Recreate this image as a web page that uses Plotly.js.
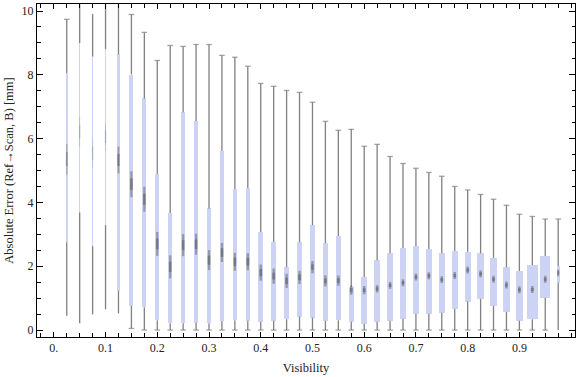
<!DOCTYPE html>
<html><head><meta charset="utf-8">
<script src="https://cdn.plot.ly/plotly-3.0.1.min.js"></script>
<style>html,body{margin:0;padding:0;background:#fff}#chart{width:576px;height:377px}</style>
</head><body><div id="chart"></div>
<script>
// ---- data ----
const visibility = [0.025,0.05,0.075,0.1,0.125,0.15,0.175,0.2,0.225,0.25,0.275,0.3,0.325,0.35,0.375,0.4,0.425,0.45,0.475,0.5,0.525,0.55,0.575,0.6,0.625,0.65,0.675,0.7,0.725,0.75,0.775,0.8,0.825,0.85,0.875,0.9,0.925,0.95,0.975];
const whiskerHigh = [9.74,10.4,9.91,10.4,10.24,9.89,9.33,8.45,8.92,8.89,8.95,8.95,8.61,8.55,8.27,7.73,7.64,7.51,7.45,7.14,6.54,6.26,6.29,5.76,5.82,5.44,5.22,5.07,4.94,4.82,4.50,4.39,4.25,4.10,3.91,3.63,3.56,3.48,3.48];
const upperQuartile = [8.06,9.00,8.57,8.81,8.64,8.01,7.26,4.89,3.67,6.83,6.55,3.81,5.61,4.42,4.45,3.07,2.76,1.97,2.75,3.29,2.72,2.95,1.35,1.66,2.19,2.41,2.57,2.63,2.54,2.41,2.48,2.45,2.40,2.26,1.97,1.85,2.04,2.32,2.01];
const median = [5.36,6.22,5.54,6.06,5.33,4.57,4.10,2.70,1.98,2.66,2.69,2.19,2.43,2.14,2.14,1.80,1.69,1.54,1.65,1.97,1.54,1.55,1.25,1.25,1.29,1.40,1.48,1.66,1.70,1.58,1.71,1.88,1.76,1.59,1.41,1.26,1.27,1.59,1.79];
const lowerQuartile = [2.75,3.68,2.63,3.29,1.23,0.76,0.71,0.31,0.21,0.21,0.23,0.21,0.28,0.31,0.29,0.26,0.29,0.34,0.42,0.39,0.29,0.31,0.26,0.20,0.26,0.29,0.35,0.51,0.51,0.54,0.67,0.89,0.98,0.76,0.57,0.29,0.34,1.01,1.48];
const whiskerLow = [0.45,0.21,0.49,0.65,0.52,0.05,0,0,0,0,0,0,0,0,0,0,0,0,0,0,0,0,0,0,0,0,0,0,0,0,0,0,0,0,0,0,0,0,0];
const sampleWeight = [2,1.3,1,1.3,3,4,4,4,4,4,4,4,4,4,4.5,4.5,5,5,5,5,5,5,5.5,5.5,5.5,6,6,6,6,6,6,6,6.5,7,7,7,11,10,3];
const xTickValues = [0,0.1,0.2,0.3,0.4,0.5,0.6,0.7,0.8,0.9];
const xTickLabels = ['0.','0.1','0.2','0.3','0.4','0.5','0.6','0.7','0.8','0.9'];

// ---- styling / derived geometry ----
const unitPerPx = 1/517.3;
const grey = '#808080';
const n = visibility.length;

const boxTrace = {
  type:'bar', x: visibility,
  y: upperQuartile.map((v,i)=>v-lowerQuartile[i]),
  base: lowerQuartile,
  width: sampleWeight.map(w=>w*unitPerPx),
  marker:{color:'#cdd3f4', line:{width:0}},
  hoverinfo:'skip'
};

const wx=[], wy=[];
for(let i=0;i<n;i++){
  wx.push(visibility[i],visibility[i],null,visibility[i],visibility[i],null);
  wy.push(upperQuartile[i],whiskerHigh[i],null,lowerQuartile[i],whiskerLow[i],null);
}
const whiskers = {type:'scatter',mode:'lines',x:wx,y:wy,line:{color:grey,width:1.3},hoverinfo:'skip'};

const capSize = sampleWeight.map(w=> w<1.5 ? 0 : 4);
const topCaps = {type:'scatter',mode:'markers',x:visibility,y:whiskerHigh,
  marker:{symbol:'line-ew',size:capSize,color:grey,line:{color:grey,width:1.3}},hoverinfo:'skip'};
const lowCapSize = sampleWeight.map(w=> (w<3.5) ? 0 : 4);
const lowCaps = {type:'scatter',mode:'markers',x:visibility,y:whiskerLow,
  marker:{symbol:'line-ew',size:lowCapSize,color:grey,line:{color:grey,width:1.3}},hoverinfo:'skip'};

// median glyphs: a soft, tapered vertical mark (two stacked dashes)
const medianTraces = [];
for(let i=0;i<n;i++){
  const len = Math.max(5, 22-0.7*i);
  const w = sampleWeight[i];
  const lw = Math.min(2.4, 0.4 + w*0.45);
  const a = w < 1.5 ? 0.2 : (w < 2.5 ? 0.35 : 0.45);
  medianTraces.push({type:'scatter',mode:'markers',x:[visibility[i]],y:[median[i]],
    marker:{symbol:'line-ns',size:len,color:'rgba(80,80,80,'+a+')',line:{color:'rgba(80,80,80,'+a+')',width:lw}},hoverinfo:'skip'});
  medianTraces.push({type:'scatter',mode:'markers',x:[visibility[i]],y:[median[i]],
    marker:{symbol:'line-ns',size:len*0.45,color:'rgba(80,80,80,'+a+')',line:{color:'rgba(80,80,80,'+a+')',width:lw+0.5}},hoverinfo:'skip'});
}

const font = {family:'"Liberation Serif", "Times New Roman", serif', size:12, color:'#222'};
const titleFont = {family:'"Liberation Serif", "Times New Roman", serif', size:12.5, color:'#222'};
const layout = {
  width:576, height:377,
  margin:{l:37, r:1, t:4, b:40},
  paper_bgcolor:'#fff', plot_bgcolor:'#fff',
  showlegend:false, font:font, bargap:0,
  xaxis:{range:[-0.0325,1.0075], tickmode:'array', tickvals:xTickValues, ticktext:xTickLabels,
    ticks:'inside', ticklen:5, tickcolor:'#000', showgrid:false, zeroline:false,
    showline:true, linecolor:'#000', linewidth:1, mirror:'allticks',
    minor:{dtick:0.025, tick0:0, ticks:'inside', ticklen:4, tickcolor:'#000', showgrid:false},
    tickfont:font, title:{text:'Visibility', font:titleFont, standoff:8}},
  yaxis:{range:[-0.219,10.22], tickmode:'linear', tick0:0, dtick:2,
    ticks:'inside', ticklen:6, tickcolor:'#000', showgrid:false, zeroline:false,
    showline:true, linecolor:'#000', linewidth:1, mirror:'allticks',
    minor:{dtick:0.5, tick0:0, ticks:'inside', ticklen:3.5, tickcolor:'#000', showgrid:false},
    tickfont:font, title:{text:'Absolute Error (Ref\u2192Scan, B) [mm]', font:titleFont, standoff:5}}
};
Plotly.newPlot('chart',[boxTrace,whiskers,topCaps,lowCaps].concat(medianTraces),layout,{staticPlot:true,displayModeBar:false});
</script></body></html>
